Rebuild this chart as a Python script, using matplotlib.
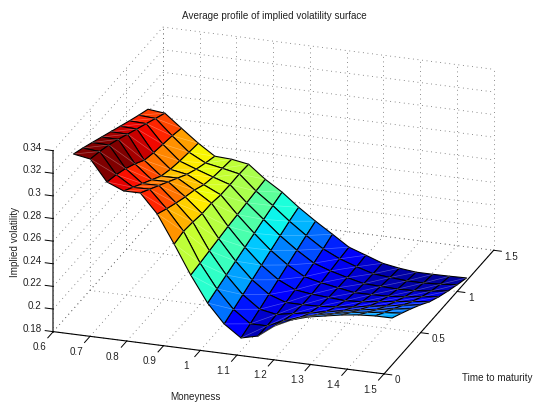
import numpy as np
import matplotlib
matplotlib.use('Agg')
import matplotlib.pyplot as plt
from mpl_toolkits.mplot3d import proj3d

plt.rcParams['font.family'] = ['Liberation Sans', 'DejaVu Sans']

title = 'Average profile of implied volatility surface'
x_ticks = [0.6, 0.7, 0.8, 0.9, 1.0, 1.1, 1.2, 1.3, 1.4, 1.5]
x_tick_labels = ['0.6', '0.7', '0.8', '0.9', '1', '1.1', '1.2', '1.3', '1.4', '1.5']
y_ticks = [0, 0.5, 1, 1.5]
y_tick_labels = ['0', '0.5', '1', '1.5']
z_ticks = [0.18, 0.20, 0.22, 0.24, 0.26, 0.28, 0.30, 0.32, 0.34]
z_tick_labels = ['0.18', '0.2', '0.22', '0.24', '0.26', '0.28', '0.3', '0.32', '0.34']

moneyness = [0.633, 0.679, 0.724, 0.770, 0.815, 0.861, 0.907, 0.952, 0.998, 1.043,
             1.089, 1.135, 1.180, 1.226, 1.271, 1.317, 1.363, 1.408, 1.454, 1.5]
maturity = [0.11, 0.2375, 0.365, 0.4925, 0.62, 0.7475, 0.875, 1.0025, 1.13]

# one row per moneyness, shortest maturity first
vol = [
    [0.3304, 0.3264, 0.3220, 0.3175, 0.3130, 0.3085, 0.3040, 0.2997, 0.2957],
    [0.3279, 0.3252, 0.3217, 0.3174, 0.3127, 0.3080, 0.3034, 0.2987, 0.2941],
    [0.3095, 0.3067, 0.3028, 0.2977, 0.2916, 0.2889, 0.2871, 0.2853, 0.2827],
    [0.3034, 0.2974, 0.2914, 0.2854, 0.2794, 0.2761, 0.2741, 0.2726, 0.2713],
    [0.3035, 0.2975, 0.2915, 0.2855, 0.2795, 0.2735, 0.2688, 0.2650, 0.2617],
    [0.2869, 0.2822, 0.2780, 0.2741, 0.2708, 0.2662, 0.2637, 0.2622, 0.2609],
    [0.2622, 0.2642, 0.2631, 0.2613, 0.2612, 0.2592, 0.2589, 0.2591, 0.2584],
    [0.2367, 0.2380, 0.2395, 0.2410, 0.2425, 0.2436, 0.2448, 0.2459, 0.2470],
    [0.2138, 0.2170, 0.2200, 0.2230, 0.2260, 0.2290, 0.2320, 0.2349, 0.2375],
    [0.1972, 0.2008, 0.2045, 0.2083, 0.2120, 0.2158, 0.2195, 0.2230, 0.2260],
    [0.1867, 0.1899, 0.1935, 0.1973, 0.2010, 0.2048, 0.2085, 0.2122, 0.2156],
    [0.1903, 0.1900, 0.1908, 0.1921, 0.1940, 0.1963, 0.1990, 0.2023, 0.2060],
    [0.2011, 0.1965, 0.1935, 0.1920, 0.1920, 0.1928, 0.1940, 0.1954, 0.1964],
    [0.2083, 0.2013, 0.1960, 0.1925, 0.1910, 0.1903, 0.1900, 0.1903, 0.1912],
    [0.2128, 0.2055, 0.1990, 0.1938, 0.1900, 0.1878, 0.1865, 0.1860, 0.1860],
    [0.2156, 0.2084, 0.2015, 0.1955, 0.1910, 0.1880, 0.1860, 0.1846, 0.1835],
    [0.2184, 0.2114, 0.2045, 0.1983, 0.1930, 0.1885, 0.1855, 0.1835, 0.1819],
    [0.2203, 0.2133, 0.2065, 0.2003, 0.1950, 0.1898, 0.1860, 0.1835, 0.1819],
    [0.2213, 0.2151, 0.2090, 0.2030, 0.1970, 0.1918, 0.1875, 0.1843, 0.1821],
    [0.2214, 0.2162, 0.2108, 0.2050, 0.1985, 0.1936, 0.1895, 0.1858, 0.1825],
]

W, H = 535, 403
TEXT = '#222222'
GRID = '#666666'
FS = 7.1

fig = plt.figure(figsize=(W / 100, H / 100), dpi=100)
# square 3d axes, bigger than the figure height, placed so the box corners land right
side = 512
ax = fig.add_axes([10.55 / W, -60.4 / H, side / W, side / H], projection='3d',
                  computed_zorder=False)
ax.set_proj_type('ortho')
ax.view_init(elev=22.3, azim=-71.4)
ax.set_box_aspect((349.2, 343.9, 195.7))
ax.set_xlim(0.6, 1.5, view_margin=0)
ax.set_ylim(0, 1.5, view_margin=0)
ax.set_zlim(0.18, 0.34, view_margin=0)
ax.set_xticks([])
ax.set_yticks([])
ax.set_zticks([])
ax.set_axis_off()

x0, x1 = 0.6, 1.5
y0, y1 = 0, 1.5
z0, z1 = 0.18, 0.34
proj = ax.get_proj()


def grid_line(xs, ys, zs):
    ax.plot(xs, ys, zs, color=GRID, lw=0.6, ls=(0, (1, 4.5)), zorder=1)


def label_at(x, y, z, s, **kw):
    # project here so the text sits at its real place in the 2d view
    xp, yp, _ = proj3d.proj_transform(x, y, z, proj)
    ax.text2D(xp, yp, s, transform=ax.transData, fontsize=FS, color=TEXT, **kw)


# dotted grid on the floor and the two back walls
for x in x_ticks:
    grid_line([x, x], [y0, y1], [z0, z0])
    grid_line([x, x], [y1, y1], [z0, z1])
for y in y_ticks:
    grid_line([x0, x1], [y, y], [z0, z0])
    grid_line([x0, x0], [y, y], [z0, z1])
for z in z_ticks:
    grid_line([x0, x0], [y0, y1], [z, z])
    grid_line([x0, x1], [y1, y1], [z, z])

X, Y = np.meshgrid(moneyness, maturity)
Z = np.array(vol).T
colors = plt.cm.jet(plt.Normalize(0.18, 0.322, clip=True)(Z))
surf = ax.plot_surface(X, Y, Z, facecolors=colors, rstride=1, cstride=1,
                       shade=False, linewidth=0.8, zorder=2)
surf.set_edgecolor('k')

# faint seam across each face, the original renderer leaves one
for j in range(len(maturity) - 1):
    for i in range(len(moneyness) - 1):
        ax.plot(X[j:j + 2, i:i + 2].diagonal(), Y[j:j + 2, i:i + 2].diagonal(),
                Z[j:j + 2, i:i + 2].diagonal(), color='w', lw=0.5, alpha=0.3, zorder=2.5)

# axis lines and ticks
ax.plot([x0, x1], [y0, y0], [z0, z0], color='k', lw=0.8, zorder=3)
ax.plot([x1, x1], [y0, y1], [z0, z0], color='k', lw=0.8, zorder=3)
ax.plot([x0, x0], [y0, y0], [z0, z1], color='#444444', lw=1.1, zorder=3)

for x, lab in zip(x_ticks, x_tick_labels):
    ax.plot([x, x], [y0, y0 - 0.075], [z0, z0], color='k', lw=0.7, zorder=3)
    label_at(x, y0 - 0.19, z0, lab, ha='center', va='center')
for y, lab in zip(y_ticks, y_tick_labels):
    ax.plot([x1, x1 + 0.021], [y, y], [z0, z0], color='k', lw=0.7, zorder=3)
    label_at(x1 + 0.03, y, z0 - 0.0044, lab, ha='left', va='center')
for z, lab in zip(z_ticks, z_tick_labels):
    ax.plot([x0, x0 - 0.022], [y0, y0], [z, z], color='k', lw=0.7, zorder=3)
    label_at(x0 - 0.0315, y0, z + 0.0013, lab, ha='right', va='center')

fig.text(274.3 / W, 1 - 15.7 / H, title, fontsize=FS, color=TEXT, ha='center', va='center')
fig.text(195.7 / W, 1 - 397 / H, 'Moneyness', fontsize=FS, color=TEXT, ha='center', va='center')
fig.text(497.3 / W, 1 - 378.3 / H, 'Time to maturity', fontsize=FS, color=TEXT, ha='center', va='center')
fig.text(15 / W, 1 - 241.7 / H, 'Implied volatility', fontsize=FS, color=TEXT,
         rotation=90, ha='center', va='center')

fig.savefig('out.png', dpi=100)
